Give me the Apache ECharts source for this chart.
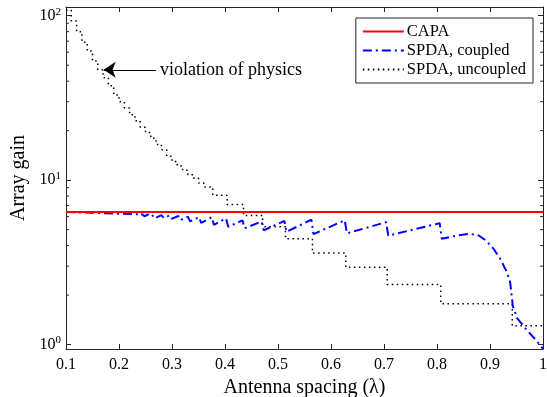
<!DOCTYPE html>
<html>
<head>
<meta charset="utf-8">
<script src="https://cdn.jsdelivr.net/npm/echarts@6/dist/echarts.min.js"></script>
<style>
  html, body { margin: 0; padding: 0; background: #fff; }
  #chart { width: 547px; height: 397px; }
</style>
</head>
<body>
<div id="chart"></div>
<script>
// values
var capaX = [0.1, 1.0]
var capaY = [6.4, 6.4]

var cplX = [0.10, 0.15, 0.20,
  0.233, 0.237, 0.244, 0.248, 0.255, 0.259, 0.267, 0.271, 0.280, 0.285,
  0.295, 0.299, 0.312, 0.316, 0.330, 0.334, 0.351, 0.355, 0.375, 0.379,
  0.402, 0.406, 0.433, 0.437, 0.469, 0.473, 0.512, 0.516, 0.563, 0.567,
  0.626, 0.630, 0.704, 0.708, 0.805, 0.809,
  0.84, 0.862, 0.878, 0.892, 0.906, 0.92, 0.932, 0.938, 0.943, 0.951, 0.97, 0.985, 1.0]
var cplY = [6.4, 6.33, 6.25,
  6.22, 6.08, 6.2, 6.03, 6.18, 5.98, 6.15, 5.93, 6.12, 5.88,
  6.1, 5.82, 6.05, 5.72, 6.0, 5.62, 5.95, 5.5, 5.95, 5.35,
  5.85, 5.2, 5.7, 5.1, 5.6, 4.95, 5.65, 4.85, 5.75, 4.7,
  5.7, 4.75, 5.55, 4.6, 5.47, 4.4,
  4.62, 4.72, 4.62, 4.3, 3.85, 3.3, 2.75, 2.4, 1.72, 1.45, 1.22, 1.08, 0.945]

var uncX = [0.10, 0.11, 0.12, 0.13, 0.14, 0.15, 0.16, 0.17, 0.18, 0.19,
  0.20, 0.21, 0.22, 0.23, 0.24, 0.25, 0.26, 0.27, 0.28, 0.29,
  0.30, 0.31, 0.32, 0.33, 0.34, 0.35, 0.36,
  0.377, 0.404, 0.435, 0.471, 0.514, 0.565, 0.628, 0.706, 0.807, 0.942, 1.0]
var uncY = [108, 93, 80, 69, 61, 53, 47, 42, 37.5, 33,
  30, 27.5, 25, 23, 21, 19.5, 18, 16.5, 15.3, 14,
  13, 12.2, 11.5, 10.8, 10.3, 9.6, 9.1,
  8.1, 7.1, 6.1, 5.2, 4.4, 3.6, 2.95, 2.32, 1.77, 1.3, 1.3]

var minorTicks = [2, 3, 4, 5, 6, 7, 8, 9, 20, 30, 40, 50, 60, 70, 80, 90]

var arrowFrom = [0.27, 46.9]
var arrowTo = [0.171, 46.9]

var FONT = 'Liberation Serif'
var AXC = '#262626'

function pairs (xs, ys) {
  var out = []
  for (var i = 0; i < xs.length; i++) out.push([xs[i], ys[i]])
  return out
}

var myChart = echarts.init(document.getElementById('chart'))

var baseX = {
  type: 'value',
  min: 0.1,
  max: 1,
  interval: 0.1,
  axisLine: { lineStyle: { color: AXC, width: 1 } },
  axisTick: { inside: true, length: 5, lineStyle: { color: AXC } },
  splitLine: { show: false }
}
var baseY = {
  type: 'log',
  logBase: 10,
  min: 0.94,
  max: 113,
  axisLine: { show: true, lineStyle: { color: AXC, width: 1 } },
  axisTick: { inside: true, length: 5, lineStyle: { color: AXC } },
  splitLine: { show: false }
}

var option = {
  animation: false,
  backgroundColor: '#fff',
  grid: { left: 66, right: 4, top: 7, bottom: 48, outerBoundsMode: 'none' },
  legend: {
    data: ['CAPA', 'SPDA, coupled', 'SPDA, uncoupled'],
    orient: 'vertical',
    right: 14,
    top: 18,
    itemWidth: 41,
    itemHeight: 10,
    itemGap: 2,
    padding: [5, 7, 5, 6],
    borderColor: AXC,
    borderWidth: 1,
    backgroundColor: '#fff',
    itemStyle: { color: 'rgba(0,0,0,0)', borderWidth: 0, opacity: 0 },
    textStyle: { fontFamily: FONT, fontSize: 16.5, color: '#000', padding: [0, 0, 0, -2] }
  },
  xAxis: [
    Object.assign({}, baseX, {
      position: 'bottom',
      name: 'Antenna spacing (λ)',
      nameLocation: 'middle',
      nameGap: 27,
      nameTextStyle: { fontFamily: FONT, fontSize: 20, color: '#000' },
      axisLabel: { fontFamily: FONT, fontSize: 16, color: '#000', margin: 8 }
    }),
    Object.assign({}, baseX, {
      position: 'top',
      axisLabel: { show: false }
    })
  ],
  yAxis: [
    Object.assign({}, baseY, {
      position: 'left',
      name: 'Array gain',
      nameLocation: 'middle',
      nameGap: 37,
      nameTextStyle: { fontFamily: FONT, fontSize: 20, color: '#000' },
      axisLabel: {
        showMinLabel: false,
        showMaxLabel: false,
        margin: 5,
        formatter: function (v) {
          return '{b|10}{e|' + Math.round(Math.log10(v)) + '}'
        },
        rich: {
          b: { fontFamily: FONT, fontSize: 16, color: '#000' },
          e: { fontFamily: FONT, fontSize: 11, color: '#000', verticalAlign: 'bottom', padding: [0, 0, 8, 0] }
        }
      }
    }),
    Object.assign({}, baseY, {
      position: 'right',
      axisLabel: { show: false }
    })
  ],
  series: [
    {
      name: 'CAPA',
      type: 'line',
      data: pairs(capaX, capaY),
      symbol: 'none',
      lineStyle: { color: '#ff0000', width: 2 },
      itemStyle: { color: '#ff0000' },
      z: 4
    },
    {
      name: 'SPDA, coupled',
      type: 'line',
      data: pairs(cplX, cplY),
      symbol: 'none',
      lineStyle: { color: '#0000ff', width: 2, type: [9, 4, 2, 4] },
      itemStyle: { color: '#0000ff' },
      z: 3
    },
    {
      name: 'SPDA, uncoupled',
      type: 'line',
      data: pairs(uncX, uncY),
      step: 'end',
      symbol: 'none',
      lineStyle: { color: '#000', width: 1.5, type: [1.5, 3.5] },
      itemStyle: { color: '#000' },
      z: 2,
      markLine: {
        silent: true,
        symbol: ['none', 'arrow'],
        symbolSize: 12,
        lineStyle: { color: '#000', type: 'solid', width: 1.2 },
        itemStyle: { color: '#000' },
        label: { show: false },
        data: [[{ coord: arrowFrom }, { coord: arrowTo }]]
      },
      markPoint: {
        silent: true,
        symbol: 'circle',
        symbolSize: 0,
        label: {
          show: true,
          position: 'right',
          distance: 4,
          formatter: 'violation of physics',
          fontFamily: FONT,
          fontSize: 18,
          color: '#000'
        },
        data: [{ coord: arrowFrom }]
      }
    },
    {
      // log minor ticks on both y axes
      type: 'custom',
      silent: true,
      data: minorTicks.map(function (v) { return [0.1, v] }),
      renderItem: function (params, api) {
        var p = api.coord([0.1, api.value(1)])
        var cs = params.coordSys
        var st = { stroke: AXC, lineWidth: 1 }
        return {
          type: 'group',
          children: [
            { type: 'line', shape: { x1: cs.x, y1: p[1], x2: cs.x + 3, y2: p[1] }, style: st },
            { type: 'line', shape: { x1: cs.x + cs.width, y1: p[1], x2: cs.x + cs.width - 3, y2: p[1] }, style: st }
          ]
        }
      },
      z: 1
    }
  ]
}
myChart.setOption(option)
</script>
</body>
</html>
